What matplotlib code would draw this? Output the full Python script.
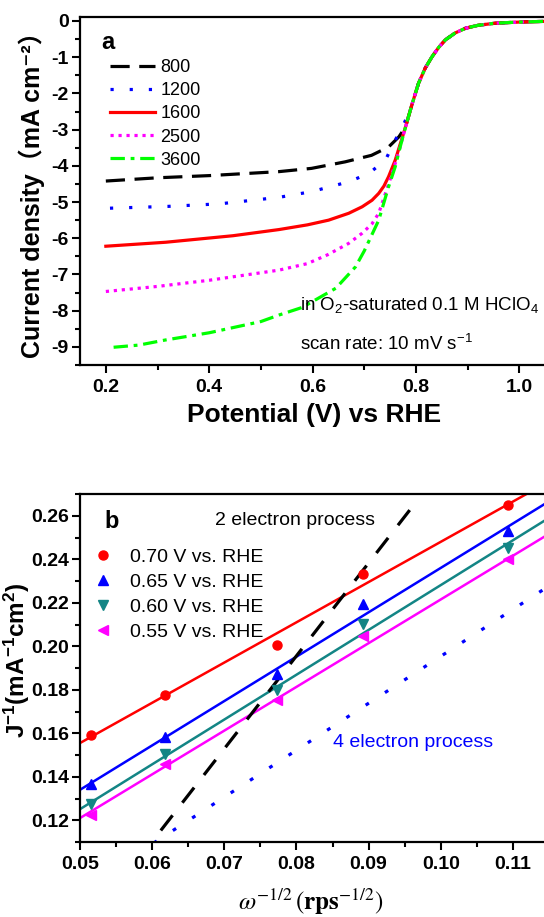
import matplotlib
matplotlib.use("Agg")
import matplotlib.pyplot as plt
from matplotlib.ticker import MultipleLocator

plt.rcParams['font.family'] = ['Liberation Sans', 'Noto Sans CJK SC', 'DejaVu Sans']
plt.rcParams['mathtext.fontset'] = 'custom'
plt.rcParams['mathtext.rm'] = 'Liberation Sans'
plt.rcParams['mathtext.it'] = 'Liberation Sans:italic'
plt.rcParams['mathtext.bf'] = 'Liberation Sans:bold'

# ---- panel a: LSV curves at different rotation rates (rpm) ----
rpm_labels = ["800", "1200", "1600", "2500", "3600"]

# shared part of every curve (mixed kinetic / kinetic region)
common_v = [0.780, 0.792, 0.805, 0.818, 0.831, 0.844, 0.857, 0.876, 0.896, 0.92, 0.954, 1.0, 1.05, 1.1]
common_j = [-2.92, -2.32, -1.72, -1.30, -0.99, -0.73, -0.52, -0.33, -0.20, -0.12, -0.06, -0.03, -0.01, 0.0]

v800 = [0.2, 0.3, 0.4, 0.535, 0.598, 0.663, 0.714, 0.747, 0.767]
j800 = [-4.42, -4.33, -4.27, -4.16, -4.07, -3.89, -3.71, -3.48, -3.20]
v1200 = [0.208, 0.32, 0.42, 0.535, 0.599, 0.670, 0.709, 0.741, 0.760, 0.778]
j1200 = [-5.17, -5.12, -5.05, -4.87, -4.71, -4.44, -4.21, -3.84, -3.29, -2.80]
v1600 = [0.2, 0.316, 0.446, 0.535, 0.59, 0.631, 0.67, 0.696, 0.715, 0.728, 0.738, 0.747, 0.760, 0.770]
j1600 = [-6.22, -6.11, -5.93, -5.76, -5.63, -5.50, -5.31, -5.13, -4.95, -4.76, -4.56, -4.30, -3.84, -3.38]
v2500 = [0.2, 0.3, 0.4, 0.535, 0.59, 0.63, 0.67, 0.696, 0.715, 0.728, 0.741, 0.754, 0.767]
j2500 = [-7.47, -7.33, -7.16, -6.88, -6.70, -6.45, -6.14, -5.86, -5.60, -5.31, -4.76, -4.21, -3.60]
v3600 = [0.215, 0.264, 0.315, 0.40, 0.50, 0.535, 0.58, 0.645, 0.683, 0.70, 0.728, 0.747, 0.760, 0.770]
j3600 = [-9.01, -8.95, -8.81, -8.61, -8.30, -8.12, -7.91, -7.38, -6.79, -6.35, -5.50, -4.58, -4.02, -3.45]

# ---- panel b: Koutecky-Levich plot ----
omega = [0.0515, 0.0618, 0.0773, 0.0892, 0.1093]
j070 = [0.1591, 0.1778, 0.2005, 0.2334, 0.2649]
j065 = [0.1366, 0.1582, 0.1871, 0.2193, 0.2531]
j060 = [0.1274, 0.1506, 0.1801, 0.2104, 0.2454]
j055 = [0.1225, 0.1459, 0.1755, 0.2047, 0.2400]
kl_labels = ["0.70 V vs. RHE", "0.65 V vs. RHE", "0.60 V vs. RHE", "0.55 V vs. RHE"]

# fitted lines read at the two ends of the x range
fit_x = [0.05, 0.12]
fit070 = [0.1555, 0.2850]
fit065 = [0.1340, 0.2768]
fit060 = [0.1251, 0.2693]
fit055 = [0.1210, 0.2617]

# theoretical lines
two_e_x = [0.0612, 0.0965]
two_e_y = [0.1153, 0.2660]
four_e_x = [0.0602, 0.12]
four_e_y = [0.1095, 0.2385]

W, H = 544, 917
fig = plt.figure(figsize=(W / 100, H / 100), dpi=100)
ax1 = fig.add_axes([80 / W, 1 - 365 / H, 491 / W, 348 / H])
ax2 = fig.add_axes([80 / W, 1 - 842 / H, 505 / W, 348 / H])

# panel a
lw = 2.3
ax1.plot(v800 + common_v, j800 + common_j, color='black', lw=lw, ls=(0, (6, 3)), label=rpm_labels[0])
ax1.plot(v1200 + common_v[1:], j1200 + common_j[1:], color='blue', lw=lw, ls=(0, (1, 5)), label=rpm_labels[1])
ax1.plot(v1600 + common_v, j1600 + common_j, color='red', lw=lw, ls='-', label=rpm_labels[2])
ax1.plot(v2500 + common_v, j2500 + common_j, color='magenta', lw=lw, ls=(0, (1, 1.5)), label=rpm_labels[3])
ax1.plot(v3600 + common_v, j3600 + common_j, color='#00ff00', lw=lw, ls=(0, (4.5, 1.8, 1.2, 1.8)), label=rpm_labels[4])

ax1.set_xlim(0.15, 1.1)
ax1.set_ylim(-9.5, 0.11)
ax1.xaxis.set_minor_locator(MultipleLocator(0.1))
ax1.yaxis.set_minor_locator(MultipleLocator(0.5))
ax1.set_xticks([0.2, 0.4, 0.6, 0.8, 1.0])
ax1.set_xticklabels(["0.2", "0.4", "0.6", "0.8", "1.0"])
ax1.set_yticks(range(-9, 1))
ax1.set_yticklabels([str(v) if v == 0 else "-%d" % -v for v in range(-9, 1)])

ax1.legend(loc='upper left', bbox_to_anchor=(0.061, 0.879), frameon=False, fontsize=13,
           handlelength=2.5, handletextpad=0.3, labelspacing=0.34, borderpad=0, borderaxespad=0)
ax1.text(0.057, 0.928, "a", transform=ax1.transAxes, fontsize=17, fontweight='bold', ha='center', va='center')
ax1.text(0.448, 0.171, "in O$_2$-saturated 0.1 M HClO$_4$", transform=ax1.transAxes, fontsize=13.5, va='center')
ax1.text(0.448, 0.061, "scan rate: 10 mV s$^{-1}$", transform=ax1.transAxes, fontsize=13.5, va='center')

ax1.set_xlabel("Potential (V) vs RHE", fontsize=19, fontweight='bold', va='center')
ax1.xaxis.set_label_coords(0.476, -0.144)
ax1.set_ylabel("Current density（mA cm⁻²）", fontsize=18, fontweight='bold', va='center')
ax1.yaxis.set_label_coords(-0.098, 0.506)

# panel b
ax2.plot(fit_x, fit070, color='red', lw=1.8)
ax2.plot(fit_x, fit065, color='blue', lw=1.8)
ax2.plot(fit_x, fit060, color='#138585', lw=1.8)
ax2.plot(fit_x, fit055, color='magenta', lw=1.8)
ax2.plot(two_e_x, two_e_y, color='black', lw=2.3, ls=(0, (6, 5)))
ax2.plot(four_e_x, four_e_y, color='blue', lw=2.3, ls=(0, (1.2, 6)))

ax2.plot(omega, j070, 'o', color='red', ms=6.5, label=kl_labels[0])
ax2.plot(omega, j065, '^', color='blue', ms=7.5, label=kl_labels[1])
ax2.plot(omega, j060, 'v', color='#138585', ms=7.5, label=kl_labels[2])
ax2.plot(omega, j055, '<', color='magenta', ms=7.5, label=kl_labels[3])

ax2.set_xlim(0.05, 0.12)
ax2.set_ylim(0.11, 0.27)
ax2.set_xticks([0.05, 0.06, 0.07, 0.08, 0.09, 0.10, 0.11])
ax2.set_xticklabels(["0.05", "0.06", "0.07", "0.08", "0.09", "0.10", "0.11"])
ax2.xaxis.set_minor_locator(MultipleLocator(0.005))
ax2.set_yticks([0.12, 0.14, 0.16, 0.18, 0.20, 0.22, 0.24, 0.26])
ax2.set_yticklabels(["0.12", "0.14", "0.16", "0.18", "0.20", "0.22", "0.24", "0.26"])
ax2.yaxis.set_minor_locator(MultipleLocator(0.01))

ax2.legend(loc='upper left', bbox_to_anchor=(0.026, 0.845), frameon=False, fontsize=14,
           handlelength=1.0, handletextpad=0.9, labelspacing=0.38, borderpad=0, borderaxespad=0)
ax2.text(0.063, 0.92, "b", transform=ax2.transAxes, fontsize=17, fontweight='bold', ha='center', va='center')
ax2.text(0.267, 0.925, "2 electron process", transform=ax2.transAxes, fontsize=14, va='center')
ax2.text(0.501, 0.2845, "4 electron process", transform=ax2.transAxes, fontsize=14, va='center', color='blue')

ax2.set_xlabel(r"$\omega^{-1/2}\,(\mathbf{rps}^{-1/2})$", fontsize=18, va='center', math_fontfamily='stix')
ax2.xaxis.set_label_coords(0.457, -0.172)
ax2.set_ylabel("J$^{\\mathbf{-1}}$(mA$^{\\mathbf{-1}}$cm$^{\\mathbf{2}}$)", fontsize=17.5, fontweight='bold', va='center')
ax2.yaxis.set_label_coords(-0.124, 0.523)

for ax in (ax1, ax2):
    for s in ax.spines.values():
        s.set_linewidth(1.6)
    ax.tick_params(which='major', direction='out', length=6, width=1.5, labelsize=14, pad=2)
    ax.tick_params(which='minor', direction='out', length=3.5, width=1.5)
    ax.tick_params(axis='x', which='major', pad=4)
    for lab in ax.get_xticklabels() + ax.get_yticklabels():
        lab.set_fontweight('bold')

fig.savefig("out.png", dpi=100)
